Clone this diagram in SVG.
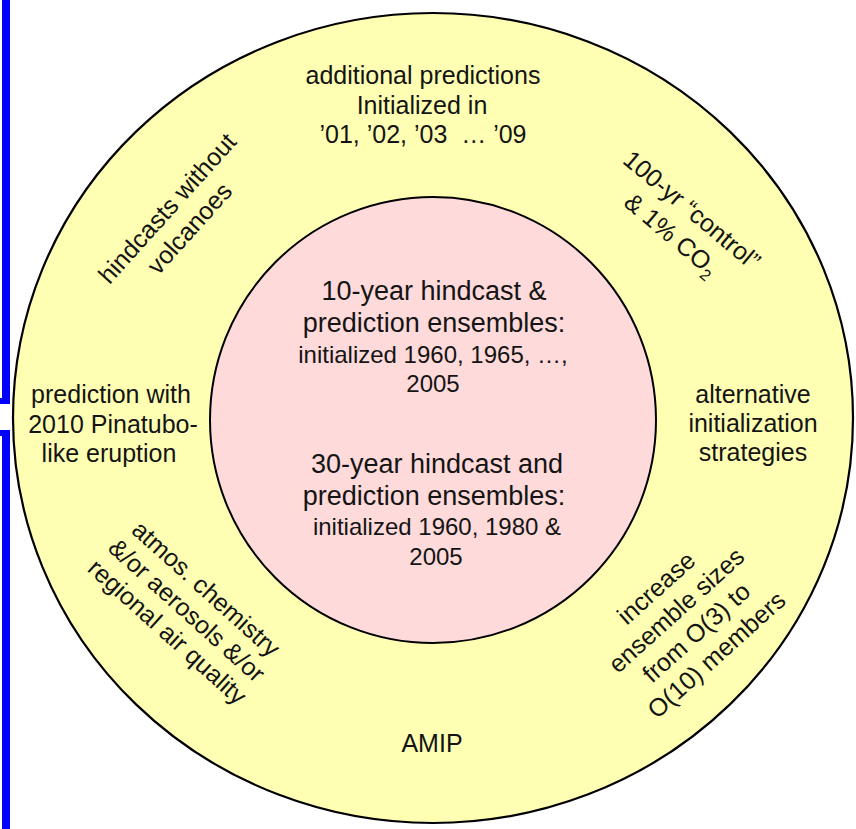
<svg xmlns="http://www.w3.org/2000/svg" width="856" height="829" viewBox="0 0 856 829">
  <style>
    .lbl { font-family: "Liberation Sans", Arial, sans-serif; font-size: 25px; fill: #141414; text-anchor: middle; }
    .big { font-size: 27px; }
    .small { font-size: 24px; }
    .pre { white-space: pre; }
  </style>
  <rect x="0" y="0" width="856" height="829" fill="#ffffff"/>

  <!-- blue side bars -->
  <g id="side-bars" fill="#0000ff">
    <rect x="2" y="0" width="8" height="404"/>
    <rect x="0" y="398" width="10" height="6"/>
    <rect x="2" y="430" width="8" height="399"/>
    <rect x="0" y="430" width="10" height="6"/>
  </g>

  <!-- outer ring of extensions -->
  <g id="outer-ring">
    <ellipse cx="433" cy="418" rx="420" ry="405" fill="#ffffb3" stroke="#000" stroke-width="2.2"/>
  </g>

  <!-- core experiments -->
  <g id="core">
    <circle cx="433" cy="420" r="223" fill="#ffdada" stroke="#000" stroke-width="2"/>
    <text class="lbl big" x="434" y="300">10-year hindcast &amp;</text>
    <text class="lbl big" x="434" y="332">prediction ensembles:</text>
    <text class="lbl small" x="433" y="363">initialized 1960, 1965, …,</text>
    <text class="lbl small" x="433" y="392">2005</text>
    <text class="lbl big" x="437" y="473">30-year hindcast and</text>
    <text class="lbl big" x="434" y="505">prediction ensembles:</text>
    <text class="lbl small" x="437" y="535">initialized 1960, 1980 &amp;</text>
    <text class="lbl small" x="436" y="565">2005</text>
  </g>

  <g id="additional-predictions">
    <text class="lbl" x="423" y="84">additional predictions</text>
    <text class="lbl" x="422" y="114">Initialized in</text>
    <text class="lbl pre" x="423" y="143">’01, ’02, ’03  … ’09</text>
  </g>

  <g id="control-co2" transform="translate(682 222) rotate(40)">
    <text class="lbl" x="0" y="-7">100-yr “control”</text>
    <text class="lbl" x="0" y="25">&amp; 1% CO<tspan font-size="16" dy="6">2</tspan></text>
  </g>

  <g id="alternative-init">
    <text class="lbl" x="753" y="403">alternative</text>
    <text class="lbl" x="753" y="432">initialization</text>
    <text class="lbl" x="753" y="461">strategies</text>
  </g>

  <g id="ensemble-sizes" transform="translate(686 621) rotate(-42)">
    <text class="lbl" x="0" y="-36">increase</text>
    <text class="lbl" x="0" y="-6">ensemble sizes</text>
    <text class="lbl" x="0" y="24">from O(3) to</text>
    <text class="lbl" x="0" y="54">O(10) members</text>
  </g>

  <g id="amip">
    <text class="lbl" x="432" y="752" font-size="27">AMIP</text>
  </g>

  <g id="chemistry" transform="translate(187 610) rotate(42)">
    <text class="lbl" x="0" y="-20">atmos. chemistry</text>
    <text class="lbl" x="0" y="9">&amp;/or aerosols &amp;/or</text>
    <text class="lbl" x="0" y="38">regional air quality</text>
  </g>

  <g id="pinatubo">
    <text class="lbl" x="111" y="403">prediction with</text>
    <text class="lbl" x="113" y="433">2010 Pinatubo-</text>
    <text class="lbl" x="109" y="462">like eruption</text>
  </g>

  <g id="no-volcanoes" transform="translate(178 218) rotate(-48)">
    <text class="lbl" x="0" y="-6">hindcasts without</text>
    <text class="lbl" x="0" y="24">volcanoes</text>
  </g>
</svg>
